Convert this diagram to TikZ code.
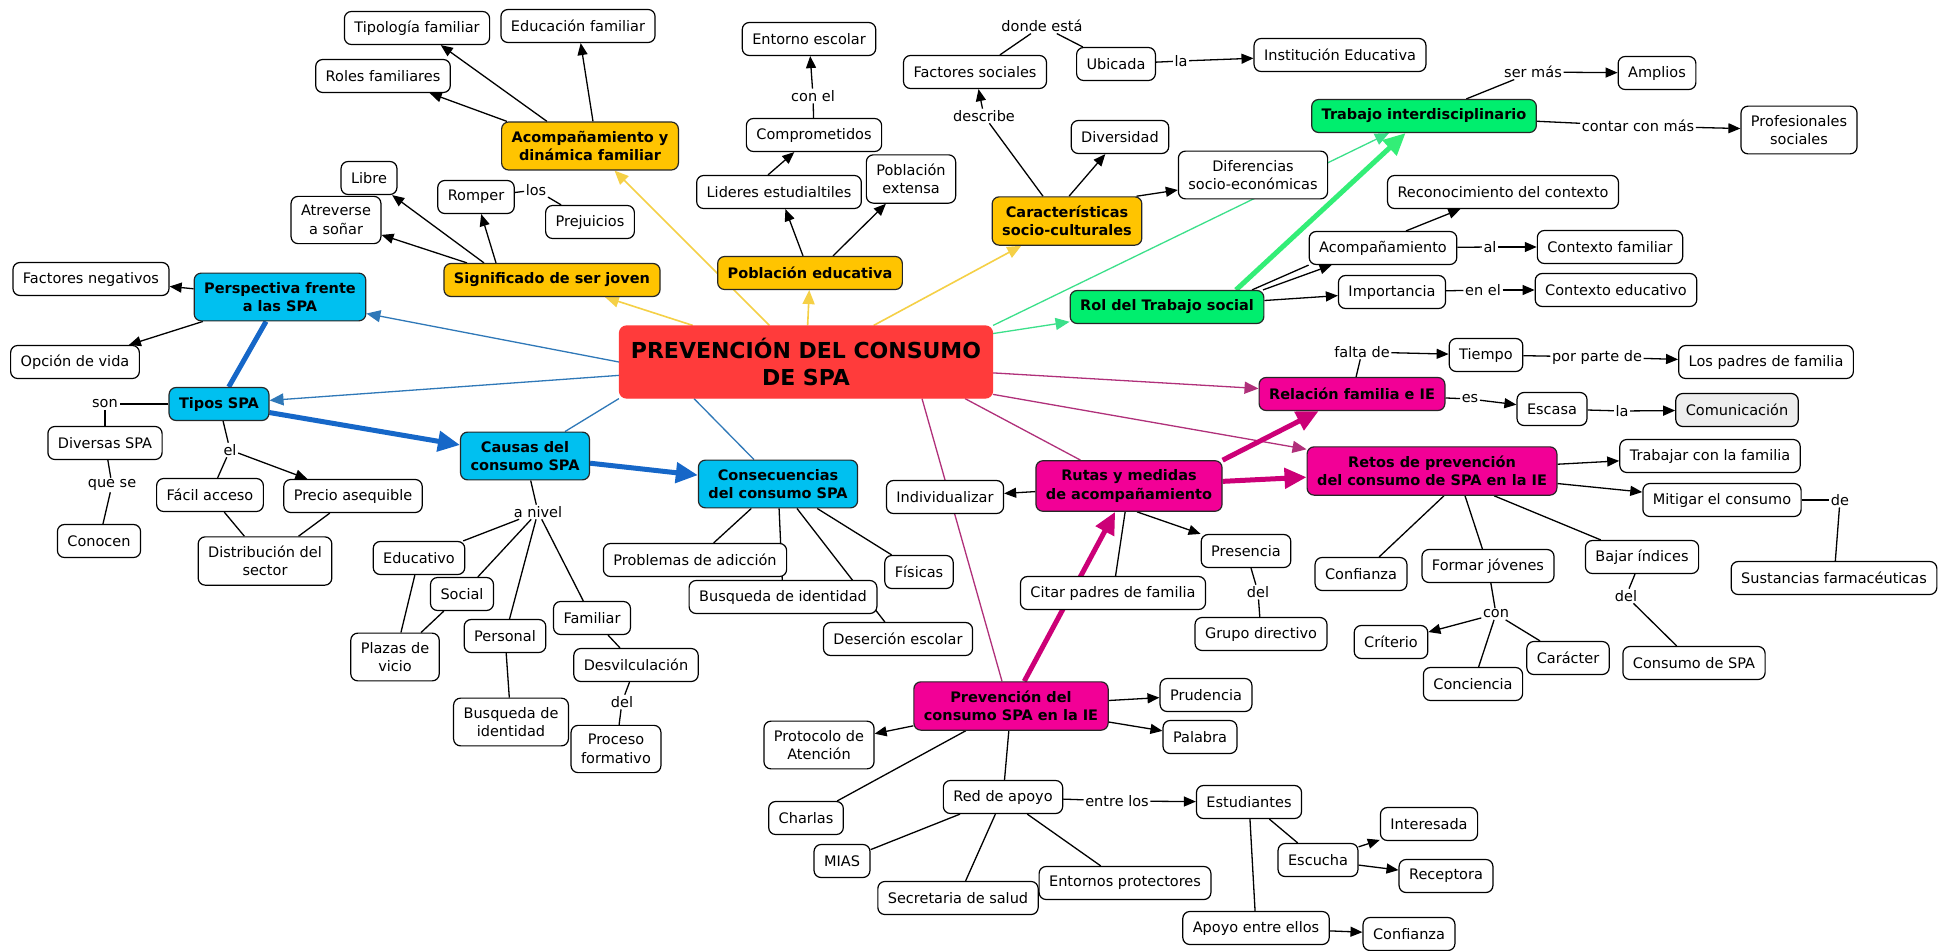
\documentclass[tikz,border=0pt]{standalone}
\usepackage{fontspec}
\setmainfont{DejaVu Sans}
\usetikzlibrary{arrows.meta}
\pgfdeclarelayer{bg}
\pgfsetlayers{bg,main}
\definecolor{yfill}{HTML}{FFC400}
\definecolor{cfill}{HTML}{00C0F0}
\definecolor{gfill}{HTML}{00EE6E}
\definecolor{mfill}{HTML}{F20096}
\definecolor{rfill}{HTML}{FF3B3B}
\definecolor{comfill}{HTML}{EEEEEE}
\definecolor{ylin}{HTML}{F5D046}
\definecolor{blin}{HTML}{2F78B8}
\definecolor{bthk}{HTML}{1667C8}
\definecolor{glin}{HTML}{3BE08A}
\definecolor{gthk}{HTML}{33EE77}
\definecolor{mlin}{HTML}{B0307A}
\definecolor{mthk}{HTML}{CC0077}
\newcommand\fs{\fontsize{14.5}{18.5}\selectfont}
\newcommand\fb{\fontsize{14.5}{18.5}\selectfont\bfseries}
\tikzset{
  cn/.style={draw=black, line width=1.2pt, rounded corners=7pt, fill=white, inner xsep=10pt, inner ysep=9pt, minimum height=33pt, align=center, font=\fs},
  yb/.style={cn, fill=yfill, draw=black!85, font=\fb},
  cb/.style={cn, fill=cfill, draw=black!85, font=\fb},
  gb/.style={cn, fill=gfill, draw=black!85, font=\fb},
  mb/.style={cn, fill=mfill, draw=black!85, font=\fb},
  rb/.style={cn, fill=rfill, draw=rfill, font=\fontsize{22}{27}\selectfont\bfseries, minimum width=373pt, minimum height=72pt},
  lab/.style={inner sep=1.5pt, font=\fs},
  ln/.style={draw=black, line width=1.3pt},
  ar/.style={ln, -{Triangle[length=12pt,width=10pt]}},
  yl/.style={draw=ylin, line width=1.6pt, -{Triangle[length=14pt,width=12pt]}},
  gl/.style={draw=glin, line width=1.3pt, -{Triangle[length=14pt,width=12pt]}},
  gk/.style={draw=gthk, line width=5pt, -{Triangle[length=22pt,width=20pt]}},
  ml/.style={draw=mlin, line width=1.3pt, -{Triangle[length=14pt,width=12pt]}},
  mlna/.style={draw=mlin, line width=1.3pt},
  mk/.style={draw=mthk, line width=5pt, -{Triangle[length=22pt,width=20pt]}},
  bl/.style={draw=blin, line width=1.3pt, -{Triangle[length=14pt,width=12pt]}},
  blna/.style={draw=blin, line width=1.3pt},
  bk/.style={draw=bthk, line width=5pt},
  bka/.style={bk, -{Triangle[length=22pt,width=20pt]}}
}
\begin{document}
\begin{tikzpicture}[x=1pt,y=-1pt]
\useasboundingbox (0,0) rectangle (1953,950);
% ---------- nodes ----------
\node[cn] (tipol) at (417,28) {Tipología familiar};
\node[cn] (educ) at (578,26) {Educación familiar};
\node[cn] (roles) at (383,76) {Roles familiares};
\node[yb] (acomp) at (590,146) {Acompañamiento y\\dinámica familiar};
\node[cn] (libre) at (369,178) {Libre};
\node[cn] (atrev) at (336,220) {Atreverse\\a soñar};
\node[cn] (romper) at (476,197) {Romper};
\node[lab] (los) at (536,190) {los};
\node[cn] (prej) at (590,222) {Prejuicios};
\node[yb] (signif) at (552,280) {Significado de ser joven};
\node[cn] (factneg) at (91,279) {Factores negativos};
\node[cb] (persp) at (280,297) {Perspectiva frente\\a las SPA};
\node[cn] (opcion) at (75,362) {Opción de vida};
\node[cb] (tipos) at (219,404) {Tipos SPA};
\node[lab] (son) at (105,404) {son};
\node[cn] (divers) at (105,443) {Diversas SPA};
\node[lab] (el) at (230,450) {el};
\node[cb] (causas) at (525,456) {Causas del\\consumo SPA};
\node[rb] (prev) at (806,362) {PREVENCIÓN DEL CONSUMO\\DE SPA};
\node[cn] (entorno) at (809,39) {Entorno escolar};
\node[lab] (conel) at (813,96) {con el};
\node[cn] (compro) at (814,135) {Comprometidos};
\node[cn] (lideres) at (779,192) {Lideres estudialtiles};
\node[cn] (pobext) at (911,179) {Población\\extensa};
\node[yb] (pobedu) at (810,273) {Población educativa};
\node[cn] (factsoc) at (975,72) {Factores sociales};
\node[lab] (donde) at (1042,26) {donde está};
\node[cn] (ubicada) at (1116,64) {Ubicada};
\node[lab] (la1) at (1181,61) {la};
\node[cn] (inst) at (1340,55) {Institución Educativa};
\node[lab] (describe) at (984,116) {describe};
\node[cn] (diversidad) at (1120,137) {Diversidad};
\node[cn] (difer) at (1253,175) {Diferencias\\socio-económicas};
\node[yb] (caract) at (1067,221) {Características\\socio-culturales};
\node[gb] (rol) at (1167,307) {Rol del Trabajo social};
\node[mb] (relac) at (1352,394) {Relación familia e IE};
\node[gb] (trabajo) at (1424,116) {Trabajo interdisciplinario};
\node[lab] (sermas) at (1533,72) {ser más};
\node[cn] (amplios) at (1657,73) {Amplios};
\node[lab] (contar) at (1638,126) {contar con más};
\node[cn] (profes) at (1799,130) {Profesionales\\sociales};
\node[cn] (recon) at (1503,192) {Reconocimiento del contexto};
\node[cn] (acomp2) at (1383,248) {Acompañamiento};
\node[lab] (al) at (1490,247) {al};
\node[cn] (ctxfam) at (1610,247) {Contexto familiar};
\node[cn] (import) at (1392,292) {Importancia};
\node[lab] (enel) at (1483,290) {en el};
\node[cn] (ctxedu) at (1616,290) {Contexto educativo};
\node[lab] (falta) at (1362,352) {falta de};
\node[cn] (tiempo) at (1486,355) {Tiempo};
\node[lab] (porparte) at (1597,357) {por parte de};
\node[cn] (padres) at (1766,362) {Los padres de familia};
\node[lab] (es) at (1470,399) {es};
\node[cn] (escasa) at (1552,409) {Escasa};
\node[lab] (la2) at (1622,411) {la};
\node[cn, fill=comfill] (comun) at (1737,410) {Comunicación};
\node[mb] (retos) at (1432,471) {Retos de prevención\\del consumo de SPA en la IE};
\node[cn] (trabfam) at (1710,456) {Trabajar con la familia};
\node[cn] (facil) at (210,495) {Fácil acceso};
\node[cn] (precio) at (353,496) {Precio asequible};
\node[lab] (quese) at (112,485) {que se};
\node[cn] (conocen) at (99,541) {Conocen};
\node[cn] (distrib) at (265,561) {Distribución del\\sector};
\node[lab] (anivel) at (538,512) {a nivel};
\node[cn] (educativo) at (419,558) {Educativo};
\node[cn] (social) at (462,594) {Social};
\node[cn] (plazas) at (395,657) {Plazas de\\vicio};
\node[cn] (personal) at (505,636) {Personal};
\node[cn] (familiar) at (592,618) {Familiar};
\node[cn] (desv) at (636,665) {Desvilculación};
\node[lab] (del1) at (622,702) {del};
\node[cn] (busq1) at (511,722) {Busqueda de\\identidad};
\node[cn] (proceso) at (616,749) {Proceso\\formativo};
\node[cb] (consec) at (778,484) {Consecuencias\\del consumo SPA};
\node[cn] (indiv) at (945,497) {Individualizar};
\node[mb] (rutas) at (1129,486) {Rutas y medidas\\de acompañamiento};
\node[cn] (problemas) at (695,560) {Problemas de adicción};
\node[cn] (fisicas) at (919,572) {Físicas};
\node[cn] (busq2) at (783,597) {Busqueda de identidad};
\node[cn] (desercion) at (898,639) {Deserción escolar};
\node[cn] (presencia) at (1246,551) {Presencia};
\node[cn] (citar) at (1113,593) {Citar padres de familia};
\node[lab] (del3) at (1258,592) {del};
\node[cn] (grupo) at (1261,634) {Grupo directivo};
\node[mb] (prevIE) at (1011,706) {Prevención del\\consumo SPA en la IE};
\node[cn] (prudencia) at (1206,695) {Prudencia};
\node[cn] (palabra) at (1200,737) {Palabra};
\node[cn] (protocolo) at (819,745) {Protocolo de\\Atención};
\node[cn] (charlas) at (806,818) {Charlas};
\node[cn] (redapoyo) at (1003,797) {Red de apoyo};
\node[lab] (entrelos) at (1117,801) {entre los};
\node[cn] (estud) at (1249,802) {Estudiantes};
\node[cn] (mias) at (842,861) {MIAS};
\node[cn] (secret) at (958,898) {Secretaria de salud};
\node[cn] (entornos) at (1125,883) {Entornos protectores};
\node[cn] (escucha) at (1318,860) {Escucha};
\node[cn] (apoyo) at (1256,928) {Apoyo entre ellos};
\node[cn] (mitigar) at (1722,500) {Mitigar el consumo};
\node[lab] (de) at (1840,500) {de};
\node[cn] (sustan) at (1834,578) {Sustancias farmacéuticas};
\node[cn] (confianza1) at (1361,574) {Confianza};
\node[cn] (formar) at (1488,566) {Formar jóvenes};
\node[cn] (bajar) at (1642,557) {Bajar índices};
\node[lab] (con) at (1496,614) {con};
\node[lab] (del2) at (1626,596) {del};
\node[cn] (criterio) at (1391,642) {Críterio};
\node[cn] (caracter) at (1568,658) {Carácter};
\node[cn] (conciencia) at (1473,684) {Conciencia};
\node[cn] (consumo) at (1694,663) {Consumo de SPA};
\node[cn] (interesada) at (1429,824) {Interesada};
\node[cn] (receptora) at (1446,876) {Receptora};
\node[cn] (confianza2) at (1409,934) {Confianza};
% ---------- connectors ----------
\begin{pgfonlayer}{bg}
\fill[white] (0,0) rectangle (1953,950);
% yellow
\draw[yl] (prev) -- (acomp);
\draw[yl] (prev) -- (signif);
\draw[yl] (prev) -- (pobedu);
\draw[yl] (prev) -- (caract);
% green
\draw[gl] (prev.north east) -- (trabajo);
\draw[gl] (prev) -- (rol);
\draw[gk] ([xshift=69pt]rol.north) -- (trabajo);
% magenta
\draw[ml] (prev) -- (relac);
\draw[ml] (prev) -- (retos);
\draw[mlna] ([xshift=159pt]prev.south) -- (rutas);
\draw[mlna] ([xshift=116pt]prev.south) -- ([xshift=-9pt]prevIE.north);
\draw[mk] (prevIE) -- (rutas);
\draw[mk] (rutas.north east) -- (relac);
\draw[mk] (rutas) -- (retos);
% blue
\draw[bl] (prev.west) -- (persp);
\draw[bl] (prev) -- (tipos);
\draw[blna] (prev.south west) -- (causas);
\draw[blna] ([xshift=-112pt]prev.south) -- (consec);
\draw[bk] (persp) -- (tipos);
\draw[bka] (tipos) -- (causas);
\draw[bka] (causas) -- (consec);
% acompanamiento familiar
\draw[ar] ([xshift=-43pt]acomp.north) -- (tipol);
\draw[ar] ([xshift=3pt]acomp.north) -- (educ);
\draw[ar] ([xshift=-83pt]acomp.north) -- (roles);
% significado
\draw[ar] ([xshift=-68pt]signif.north) -- (libre);
\draw[ar] ([xshift=-85pt]signif.north) -- (atrev);
\draw[ar] ([xshift=-56pt]signif.north) -- (romper);
\draw[ln] (romper) -- (los);
\draw[ln] (los) -- (prej);
% perspectiva / tipos
\draw[ar] (persp) -- (factneg);
\draw[ar] (persp) -- (opcion);
\draw[ln] (tipos) -- (son);
\draw[ln] (son) -- (divers);
\draw[ln] (divers) -- (quese);
\draw[ln] (quese) -- (conocen);
\draw[ln] (tipos) -- (el);
\draw[ar] (el) -- (precio);
\draw[ln] (el) -- (facil);
\draw[ln] (facil) -- (distrib);
\draw[ln] (precio) -- (distrib);
% causas
\draw[ln] (causas) -- (anivel);
\draw[ln] (anivel) -- (educativo);
\draw[ln] (anivel) -- (social);
\draw[ln] (anivel) -- (personal);
\draw[ln] (anivel) -- (familiar);
\draw[ln] (educativo) -- (plazas);
\draw[ln] (social) -- (plazas);
\draw[ln] (personal) -- (busq1);
\draw[ln] (familiar) -- (desv);
\draw[ln] (desv) -- (del1);
\draw[ln] (del1) -- (proceso);
% consecuencias
\draw[ln] (consec) -- (problemas);
\draw[ln] (consec) -- (busq2);
\draw[ln] (consec) -- (desercion);
\draw[ln] (consec) -- (fisicas);
% poblacion
\draw[ar] ([xshift=-7pt]pobedu.north) -- (lideres);
\draw[ar] ([xshift=23pt]pobedu.north) -- (pobext);
\draw[ar] ([xshift=-11pt]lideres.north) -- (compro);
\draw[ln] (compro) -- (conel);
\draw[ar] (conel) -- (entorno);
% caracteristicas
\draw[ar] ([xshift=2pt]caract.north) -- (diversidad);
\draw[ln] ([xshift=-24pt]caract.north) -- (describe);
\draw[ar] (describe) -- (factsoc);
\draw[ar] ([xshift=-6pt]caract.north east) -- ([yshift=-15pt]difer.west);
\draw[ln] (factsoc) -- (donde);
\draw[ln] (donde) -- (ubicada);
\draw[ln] (ubicada) -- (la1);
\draw[ar] (la1) -- (inst);
% trabajo
\draw[ln] (trabajo) -- (sermas);
\draw[ar] (sermas) -- (amplios);
\draw[ln] (trabajo) -- (contar);
\draw[ar] (contar) -- (profes);
% rol
\draw[ln] ([xshift=85pt]rol.north) -- (acomp2.south west);
\draw[ar] ([xshift=96pt]rol.north) -- ([xshift=23pt]acomp2.south west);
\draw[ar] (rol) -- (import);
\draw[ar] ([xshift=23pt]acomp2.north) -- (recon);
\draw[ln] (acomp2) -- (al);
\draw[ar] (al) -- (ctxfam);
\draw[ln] (import) -- (enel);
\draw[ar] (enel) -- (ctxedu);
% relacion
\draw[ln] (relac) -- (falta);
\draw[ar] (falta) -- (tiempo);
\draw[ln] (tiempo) -- (porparte);
\draw[ar] (porparte) -- (padres);
\draw[ln] (relac) -- (es);
\draw[ar] (es) -- (escasa);
\draw[ln] (escasa) -- (la2);
\draw[ar] (la2) -- (comun);
% retos
\draw[ar] (retos) -- (trabfam);
\draw[ar] (retos) -- (mitigar);
\draw[ln] (mitigar) -- (de);
\draw[ln] (de) -- (sustan);
\draw[ln] ([xshift=12pt]retos.south) -- (confianza1);
\draw[ln] ([xshift=33pt]retos.south) -- (formar);
\draw[ln] ([xshift=62pt]retos.south) -- (bajar);
\draw[ln] (formar) -- (con);
\draw[ar] (con) -- (criterio);
\draw[ln] (con) -- (conciencia);
\draw[ln] (con) -- (caracter);
\draw[ln] (bajar) -- (del2);
\draw[ln] (del2) -- (consumo);
% rutas
\draw[ar] (rutas) -- (indiv);
\draw[ar] ([xshift=8pt]rutas.south) -- (presencia.north west);
\draw[ln] (rutas) -- (citar);
\draw[ln] (presencia) -- (del3);
\draw[ln] (del3) -- (grupo);
% prevencion IE
\draw[ar] (prevIE) -- (prudencia);
\draw[ar] (prevIE) -- (palabra);
\draw[ar] (prevIE) -- (protocolo);
\draw[ln] (prevIE) -- (charlas);
\draw[ln] (prevIE) -- (redapoyo);
\draw[ln] (redapoyo) -- (entrelos);
\draw[ar] (entrelos) -- (estud);
\draw[ln] (redapoyo) -- (mias);
\draw[ln] (redapoyo) -- (secret);
\draw[ln] (redapoyo) -- (entornos);
\draw[ln] (estud) -- (escucha);
\draw[ln] (estud) -- (apoyo);
\draw[ar] (escucha) -- (interesada);
\draw[ar] (escucha) -- (receptora);
\draw[ar] (apoyo) -- (confianza2);
\end{pgfonlayer}
\end{tikzpicture}
\end{document}
